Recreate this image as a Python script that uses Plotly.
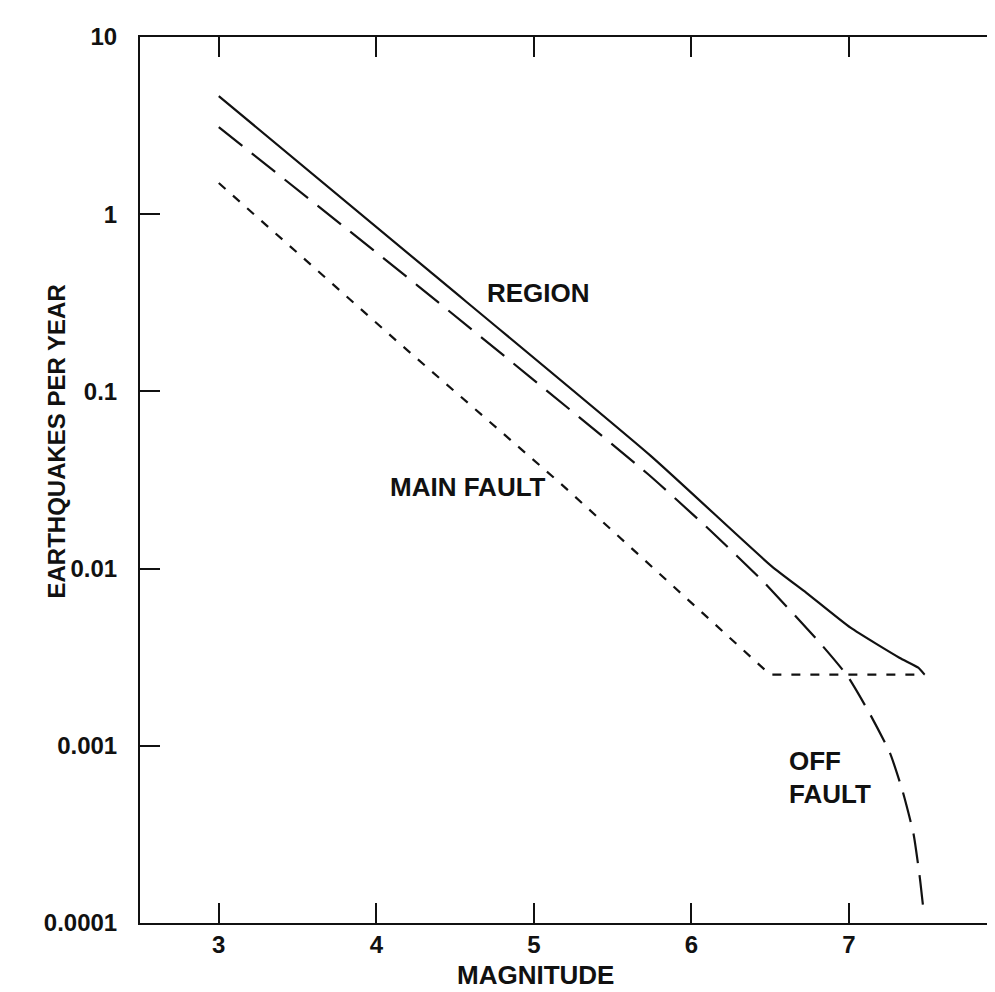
import math
import plotly.graph_objects as go

# Data
region_mag = [3.0, 4.33, 5.74, 6.51, 6.73, 7.01, 7.32, 7.44, 7.48]
region_rate = [4.64, 0.483, 0.0434, 0.0103, 0.0073, 0.00464, 0.00314, 0.00276, 0.00252]

off_mag = [3.0, 4.26, 5.72, 6.12, 6.45, 6.82, 6.99, 7.13, 7.26, 7.34, 7.41, 7.45, 7.47]
off_rate = [3.10, 0.397, 0.0344, 0.0164, 0.00855, 0.00377, 0.00248, 0.00153,
            0.000912, 0.000557, 0.000318, 0.000180, 0.000125]

main_mag = [3.0, 4.14, 5.17, 6.5, 7.48]
main_rate = [1.50, 0.189, 0.0302, 0.00252, 0.00252]

x_ticks = [3, 4, 5, 6, 7]
y_ticks = [0.0001, 0.001, 0.01, 0.1, 1, 10]
y_tick_text = ["0.0001", "0.001", "0.01", "0.1", "1", "10"]

# label anchors (magnitude, rate)
labels = [("REGION", 5.03, 0.358, "center"),
          ("MAIN FAULT", 4.58, 0.0287, "center"),
          ("OFF", 6.606, 0.000822, "left"),
          ("FAULT", 6.606, 0.000536, "left")]

FONT = "Liberation Sans, Arial, Helvetica, sans-serif"
INK = "#111111"

fig = go.Figure()
fig.add_trace(go.Scatter(x=region_mag, y=region_rate, mode="lines",
                         line=dict(color=INK, width=2.2, shape="spline", smoothing=0.5),
                         hoverinfo="skip"))
fig.add_trace(go.Scatter(x=off_mag, y=off_rate, mode="lines",
                         line=dict(color=INK, width=2.2, dash="30px,12px", shape="spline", smoothing=0.5),
                         hoverinfo="skip"))
fig.add_trace(go.Scatter(x=main_mag, y=main_rate, mode="lines",
                         line=dict(color=INK, width=2.2, dash="9px,10px"),
                         hoverinfo="skip"))

label_font = dict(family=FONT, size=26, color=INK, weight="bold")
for txt, lx, ly, anc in labels:
    fig.add_annotation(x=lx, y=math.log10(ly), text=txt, showarrow=False,
                       xanchor=anc, yanchor="middle", font=label_font)

# axis titles as annotations
fig.add_annotation(x=-0.1158, y=0.544, xref="paper", yref="paper",
                   text="EARTHQUAKES PER YEAR", textangle=-90, showarrow=False,
                   font=dict(family=FONT, size=24, color=INK, weight="bold"))
fig.add_annotation(x=0.463, y=-0.0587, xref="paper", yref="paper", yanchor="middle",
                   text="MAGNITUDE", showarrow=False,
                   font=dict(family=FONT, size=26, color=INK, weight="bold"))

tick_font = dict(family=FONT, size=24, color=INK, weight="bold")
fig.update_layout(
    width=987, height=984,
    margin=dict(l=132, r=0, t=29, b=69, autoexpand=False),
    paper_bgcolor="white", plot_bgcolor="white",
    showlegend=False,
    xaxis=dict(range=[2.5, 7.927], tickvals=x_ticks, ticks="inside", ticklen=20,
               tickwidth=2, tickcolor=INK, showline=True, linecolor=INK, linewidth=2,
               mirror="ticks", showgrid=False, zeroline=False, tickfont=tick_font,
               ticklabelstandoff=-1, automargin=False),
    yaxis=dict(type="log", range=[-4, 1], tickvals=y_ticks, ticktext=y_tick_text,
               ticks="inside", ticklen=20, tickwidth=2, tickcolor=INK,
               showline=True, linecolor=INK, linewidth=2, showgrid=False, zeroline=False,
               tickfont=tick_font, ticklabelstandoff=16, automargin=False),
    yaxis2=dict(type="log", range=[-4, 1], tickvals=y_ticks, overlaying="y", side="right",
                anchor="x", ticks="inside", ticklen=8, tickwidth=2, tickcolor=INK,
                showline=False, showgrid=False, zeroline=False, showticklabels=False,
                automargin=False),
)
fig.add_trace(go.Scatter(x=[None], y=[None], yaxis="y2", hoverinfo="skip"))

fig.write_html("out.html")
